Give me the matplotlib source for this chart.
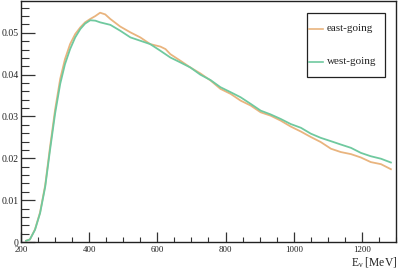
import matplotlib
matplotlib.use("Agg")
import matplotlib.pyplot as plt
from matplotlib.ticker import MultipleLocator, FuncFormatter
from matplotlib.patches import Rectangle
from matplotlib.lines import Line2D

plt.rcParams['font.family'] = ['Liberation Serif', 'DejaVu Serif']
plt.rcParams['mathtext.default'] = 'regular'

# ---- data ----
energy_east = [215, 226, 241, 256, 271, 285, 300, 315, 329, 344, 359, 374, 388, 403,
               418, 432, 447, 462, 491, 521, 550, 579, 609, 624, 638, 668, 697, 726,
               756, 785, 815, 844, 874, 903, 932, 962, 991, 1021, 1050, 1079, 1109,
               1138, 1168, 1197, 1226, 1256, 1285]
flux_east = [0.0003, 0.0006, 0.0030, 0.0071, 0.0136, 0.0226, 0.0316, 0.0390, 0.0437,
             0.0473, 0.0497, 0.0513, 0.0525, 0.0533, 0.0540, 0.0548, 0.0544, 0.0533,
             0.0515, 0.0501, 0.0489, 0.0473, 0.0467, 0.0461, 0.0449, 0.0433, 0.0417,
             0.0403, 0.0386, 0.0366, 0.0354, 0.0338, 0.0326, 0.0310, 0.0302, 0.0290,
             0.0276, 0.0264, 0.0251, 0.0239, 0.0223, 0.0215, 0.0210, 0.0202, 0.0191,
             0.0186, 0.0174]

energy_west = [215, 226, 241, 256, 271, 285, 300, 315, 329, 344, 359, 374, 388, 403,
               418, 432, 462, 491, 521, 550, 579, 609, 638, 668, 697, 726, 756, 785,
               815, 844, 874, 903, 932, 962, 991, 1021, 1050, 1079, 1109, 1138, 1168,
               1197, 1226, 1256, 1285]
flux_west = [0.0003, 0.0006, 0.0029, 0.0069, 0.0132, 0.0219, 0.0307, 0.0378, 0.0425,
             0.0461, 0.0489, 0.0509, 0.0522, 0.0530, 0.0529, 0.0525, 0.0519, 0.0505,
             0.0489, 0.0481, 0.0473, 0.0457, 0.0441, 0.0429, 0.0417, 0.0400, 0.0387,
             0.0370, 0.0358, 0.0346, 0.0330, 0.0314, 0.0305, 0.0294, 0.0282, 0.0273,
             0.0259, 0.0249, 0.0241, 0.0233, 0.0225, 0.0213, 0.0205, 0.0199, 0.0190]

series_labels = ["east-going", "west-going"]
series_colors = ["#e9b47e", "#6fc99f"]
x_label = r"E$_{\nu}$ [MeV]"

# ---- figure ----
fig = plt.figure(figsize=(3.99, 2.70), dpi=100)
ax = fig.add_axes([21 / 399, 1 - 242 / 270, 375 / 399, 241 / 270])

ax.plot(energy_east, flux_east, color=series_colors[0], lw=1.3)
ax.plot(energy_west, flux_west, color=series_colors[1], lw=1.3)

ax.set_xlim(200, 1300)
ax.set_ylim(0, 0.0576)

ax.xaxis.set_major_locator(MultipleLocator(200))
ax.xaxis.set_minor_locator(MultipleLocator(50))
ax.yaxis.set_major_locator(MultipleLocator(0.01))
ax.yaxis.set_minor_locator(MultipleLocator(0.002))

def yfmt(v, pos):
    if abs(v) < 1e-9:
        return "0"
    return f"{v:.2f}"

ax.yaxis.set_major_formatter(FuncFormatter(yfmt))
ax.xaxis.set_major_formatter(FuncFormatter(lambda v, p: f"{int(round(v))}"))

ax.tick_params(axis='both', which='both', direction='in', top=False, right=False,
               colors='#333333', labelcolor='#222222')
ax.tick_params(axis='y', which='major', length=10, width=0.9, pad=1.5, labelsize=7)
ax.tick_params(axis='y', which='minor', length=6, width=0.8)
ax.tick_params(axis='x', which='major', length=7, width=0.9, pad=3, labelsize=6.4)
ax.tick_params(axis='x', which='minor', length=3.5, width=0.8)

for sp in ax.spines.values():
    sp.set_linewidth(1.0)
    sp.set_color('#222222')

fig.text(397.5 / 399, 3.7 / 270, x_label, ha='right', va='baseline', fontsize=8.3,
         color='#222222')

# ---- legend (manual box) ----
x0, x1 = 0.762, 0.971
y0, y1 = 0.686, 0.949
ax.add_patch(Rectangle((x0, y0), x1 - x0, y1 - y0, transform=ax.transAxes,
                       facecolor='white', edgecolor='#222222', lw=0.9, zorder=5))
for i, (lab, col) in enumerate(zip(series_labels, series_colors)):
    yc = 1 - (28 + 33 * i) / 242
    ax.add_line(Line2D([0.7693, 0.8053], [yc, yc], transform=ax.transAxes,
                       color=col, lw=1.2, zorder=6))
    ax.text(0.815, yc, lab, transform=ax.transAxes, ha='left', va='center',
            fontsize=8, color='#222222', zorder=6)

fig.savefig("out.png", dpi=100)
